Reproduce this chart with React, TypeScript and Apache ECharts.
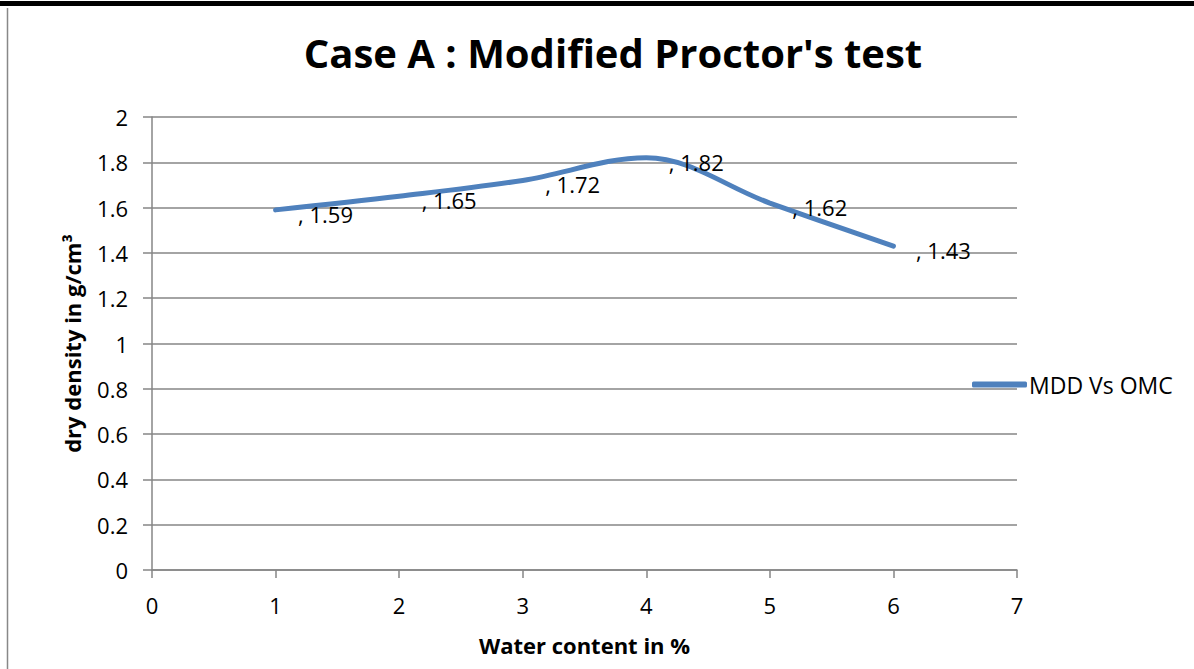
import React, { useEffect, useRef } from "react";
import * as echarts from "echarts";

const waterContent = [1, 2, 3, 4, 5, 6];
const dryDensity = [1.59, 1.65, 1.72, 1.82, 1.62, 1.43];
const seriesName = "MDD Vs OMC";
const titleText = "Case A : Modified Proctor's test";
const xAxisName = "Water content in %";
const yAxisName = "dry density in g/cm³";

export default function App() {
  const ref = useRef<HTMLDivElement>(null);
  useEffect(() => {
    document.body.style.margin = "0";
    const chart = echarts.init(ref.current!, null, { renderer: "svg" });
    const font = "Open Sans";
    const axisColor = "#868686";
    chart.setOption({
      animation: false,
      backgroundColor: "#ffffff",
      textStyle: { fontFamily: font, color: "#000" },
      title: {
        text: titleText,
        left: 608,
        top: 27,
        textAlign: "center",
        textStyle: { fontSize: 40, fontWeight: "bold", fontFamily: font, color: "#000" },
      },
      legend: {
        data: [seriesName],
        left: 967,
        top: 368,
        icon: "roundRect",
        itemWidth: 55,
        itemHeight: 6,
        itemGap: 4,
        textStyle: { fontSize: 23, fontFamily: font, color: "#000", padding: [0, 0, 0, -3] },
      },
      grid: { left: 152, right: 177, top: 117, bottom: 99 },
      xAxis: {
        type: "value",
        min: 0,
        max: 7,
        interval: 1,
        name: xAxisName,
        nameLocation: "middle",
        nameGap: 64,
        nameTextStyle: { fontSize: 22, fontWeight: "bold", fontFamily: font, color: "#000" },
        axisLine: { show: true, lineStyle: { color: axisColor, width: 1.5 } },
        axisTick: { show: true, length: 8, lineStyle: { color: axisColor, width: 1.5 } },
        axisLabel: { fontSize: 22, color: "#000", margin: 24, fontFamily: font },
        splitLine: { show: false },
      },
      yAxis: {
        type: "value",
        min: 0,
        max: 2,
        interval: 0.2,
        name: yAxisName,
        nameLocation: "middle",
        nameGap: 69,
        nameTextStyle: { fontSize: 22, fontWeight: "bold", fontFamily: font, color: "#000" },
        axisLine: { show: true, lineStyle: { color: axisColor, width: 1.5 } },
        axisTick: { show: true, length: 9, lineStyle: { color: axisColor, width: 1.5 } },
        axisLabel: { fontSize: 22, color: "#000", margin: 24, fontFamily: font },
        splitLine: { show: true, lineStyle: { color: axisColor, width: 1.5 } },
      },
      series: [
        {
          name: seriesName,
          type: "line",
          data: waterContent.map((x, i) => [x, dryDensity[i]]),
          smooth: 0.35,
          symbol: "circle",
          symbolSize: 1,
          showSymbol: true,
          lineStyle: { color: "#4F81BD", width: 5, cap: "round" },
          itemStyle: { color: "#4F81BD" },
          label: {
            show: true,
            position: "right",
            distance: 5,
            offset: [17, 4],
            fontSize: 22,
            fontFamily: font,
            color: "#000",
            formatter: (p: any) => ", " + p.value[1],
          },
        },
      ],
      graphic: [
        { type: "rect", shape: { x: 0, y: 1, width: 1194, height: 5 }, style: { fill: "#000" } },
        { type: "line", shape: { x1: 7.5, y1: 8, x2: 7.5, y2: 669 }, style: { stroke: "#888", lineWidth: 1.5 } },
      ],
    });
    return () => chart.dispose();
  }, []);
  return <div ref={ref} style={{ position: "fixed", left: 0, top: 0, width: 1194, height: 669 }} />;
}
